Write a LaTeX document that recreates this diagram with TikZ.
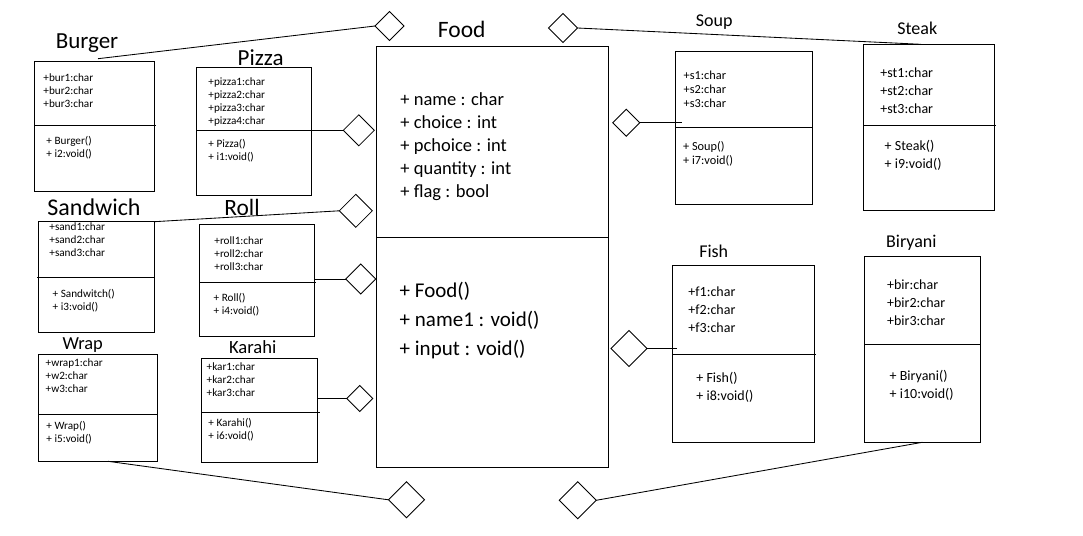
\documentclass[tikz,border=0pt]{standalone}
\usepackage{fontspec}
\setmainfont{Carlito}
\usetikzlibrary{shapes.geometric}
\newcommand\umlbox[5]{\node[box, minimum width={#4pt-#2pt}, minimum height={#5pt-#3pt}] (#1) at (#2,#3) {};}
\newcommand\boxlines[6]{\foreach \t [count=\i] in {#6} {\node[lbl,fs=#5] (#1\i) at (#2,{#3+#4*(\i-1)}) {\t};}}
\begin{document}
\begin{tikzpicture}[x=1pt,y=-1pt, line width=0.85pt,
  box/.style={draw, rectangle, inner sep=0pt, outer sep=0pt, anchor=north west},
  dia/.style={draw, diamond, inner sep=0pt, outer sep=0pt, minimum width=#1, minimum height=#1},
  lbl/.style={anchor=west, inner sep=0pt},
  fs/.style={font=\fontsize{#1}{#1}\selectfont, text height={#1pt*0.7}, text depth=0pt},
  ttl/.style={inner sep=0pt, fs=#1}]
\useasboundingbox (0,0) rectangle (1083,535);
\fill[white] (0,0) rectangle (1083,535);

% boxes
\umlbox{burger}{34.7}{61.3}{154.3}{191.3}
\umlbox{pizza}{196.7}{67.3}{311.3}{195.3}
\umlbox{sandwich}{38.7}{221.7}{154.3}{332.3}
\umlbox{roll}{199.3}{224.3}{314.3}{336.3}
\umlbox{wrap}{38.7}{354.7}{157.3}{461.3}
\umlbox{karahi}{201.3}{358.7}{317.3}{462.3}
\umlbox{food}{376.3}{46.3}{608.3}{467.3}
\umlbox{soup}{675}{51.3}{812.7}{204.3}
\umlbox{steak}{863.7}{44.3}{994.3}{210.3}
\umlbox{fish}{672}{265.3}{814.3}{442.3}
\umlbox{biryani}{864.7}{256.3}{980}{442.3}

% dividers
\draw (34.7,125.3) -- (155.7,125.3);
\draw (196.7,130.3) -- (311.3,130.3);
\draw (37,277.3) -- (154.3,277.3);
\draw (199.3,282.3) -- (315.5,282.3);
\draw (38.7,414.3) -- (157.3,414.3);
\draw (201.3,412.3) -- (319.7,412.3);
\draw (376.3,237.3) -- (608.3,237.3);
\draw (675,127.3) -- (812.7,127.3);
\draw (863.7,125.3) -- (995.7,125.3);
\draw (672,354.3) -- (816,354.3);
\draw (864.7,344.3) -- (980,344.3);

% titles
\node[ttl=23] (tBurger) at (87,40) {Burger};
\node[ttl=23] (tPizza) at (260.7,57.7) {Pizza};
\node[ttl=24] (tSandwich) at (94,206.7) {Sandwich};
\node[ttl=23.4] (tRoll) at (242,207.7) {Roll};
\node[ttl=18.4] (tWrap) at (82.7,343.3) {Wrap};
\node[ttl=18.6] (tKarahi) at (252.7,346.7) {Karahi};
\node[ttl=23.5] (tFood) at (461.7,29.3) {Food};
\node[ttl=18] (tSoup) at (714.3,20) {Soup};
\node[ttl=18] (tSteak) at (917.3,28.3) {Steak};
\node[ttl=18] (tFish) at (713.7,251.3) {Fish};
\node[ttl=18] (tBiryani) at (911.3,241.3) {Biryani};

% members
\boxlines{burA}{43}{77.7}{13}{11.2}{+bur1:char,+bur2:char,+bur3:char}
\boxlines{burM}{46}{140.7}{13}{11.2}{+ Burger(),+ i2:void()}
\boxlines{pizA}{208}{81.3}{13.1}{11.2}{+pizza1:char,+pizza2:char,+pizza3:char,+pizza4:char}
\boxlines{pizM}{208}{143.7}{13}{11.2}{+ Pizza(),+ i1:void()}
\boxlines{sanA}{49}{226.7}{13}{11.2}{+sand1:char,+sand2:char,+sand3:char}
\boxlines{sanM}{52.3}{293.7}{13}{11.2}{+ Sandwitch(),+ i3:void()}
\boxlines{rolA}{214}{240.7}{13}{11.2}{+roll1:char,+roll2:char,+roll3:char}
\boxlines{rolM}{213.3}{297.3}{13.3}{11.2}{+ Roll(),+ i4:void()}
\boxlines{wraA}{45.3}{362.7}{13}{11.2}{+wrap1:char,+w2:char,+w3:char}
\boxlines{wraM}{46}{425.7}{13}{11.2}{+ Wrap(),+ i5:void()}
\boxlines{karA}{206.3}{366.7}{13}{11.2}{+kar1:char,+kar2:char,+kar3:char}
\boxlines{karM}{208}{422.7}{13}{11.2}{+ Karahi(),+ i6:void()}
\boxlines{souA}{683.3}{75}{14.2}{12.3}{+s1:char,+s2:char,+s3:char}
\boxlines{souM}{682.7}{146.3}{14}{12.3}{+ Soup(),+ i7:void()}
\boxlines{steA}{880}{72.7}{18}{14}{+st1:char,+st2:char,+st3:char}
\boxlines{steM}{884.3}{145.7}{18}{14}{+ Steak(),+ i9:void()}
\boxlines{fisA}{688}{291.3}{18}{14}{+f1:char,+f2:char,+f3:char}
\boxlines{fisM}{696}{377.3}{18}{14}{+ Fish(),+ i8:void()}
\boxlines{birA}{886.7}{284.7}{18}{14}{+bir:char,+bir2:char,+bir3:char}
\boxlines{birM}{889.3}{375.7}{18}{14}{+ Biryani(),+ i10:void()}
\boxlines{fooA}{400}{99.3}{23}{18.5}{+ name : char,+ choice : int,+ pchoice : int,+ quantity : int,+ flag : bool}
\boxlines{fooM}{399.3}{290}{29}{21}{+ Food(),+ name1 : void(),+ input : void()}

% diamonds
\node[dia=29pt] (dBurger) at (389.5,26) {};
\node[dia=29pt] (dTop) at (563,28) {};
\node[dia=31pt] (dPizza) at (358.8,130.3) {};
\node[dia=33pt] (dSand) at (355.8,210.8) {};
\node[dia=30pt] (dRoll) at (360.7,279) {};
\node[dia=26pt] (dKarahi) at (359.7,398.5) {};
\node[dia=27pt] (dSoup) at (626.2,122.8) {};
\node[dia=36pt] (dFish) at (629,348.5) {};
\node[dia=36pt] (dBL) at (406.5,499.8) {};
\node[dia=37pt] (dBR) at (577.7,500.3) {};

% free ends
\coordinate (burT) at (98,58.7);
\coordinate (wrapB) at (108,461.3);
\coordinate (steakT) at (921,44.3);
\coordinate (soupIn) at (681.7,122.8);
\coordinate (fishIn) at (676.7,348.5);

% connectors
\draw (burT) -- (dBurger.west);
\draw (pizza.east |- dPizza.west) -- (dPizza.west);
\draw (sandwich.north east) -- (dSand.west);
\draw (roll.east |- dRoll.west) -- (dRoll.west);
\draw (karahi.east |- dKarahi.west) -- (dKarahi.west);
\draw (wrapB) -- (dBL.west);
\draw (dTop.east) -- (steakT);
\draw (dSoup.east) -- (soupIn);
\draw (dFish.east) -- (fishIn);
\draw (dBR.east) -- (biryani.south);
\end{tikzpicture}
\end{document}
